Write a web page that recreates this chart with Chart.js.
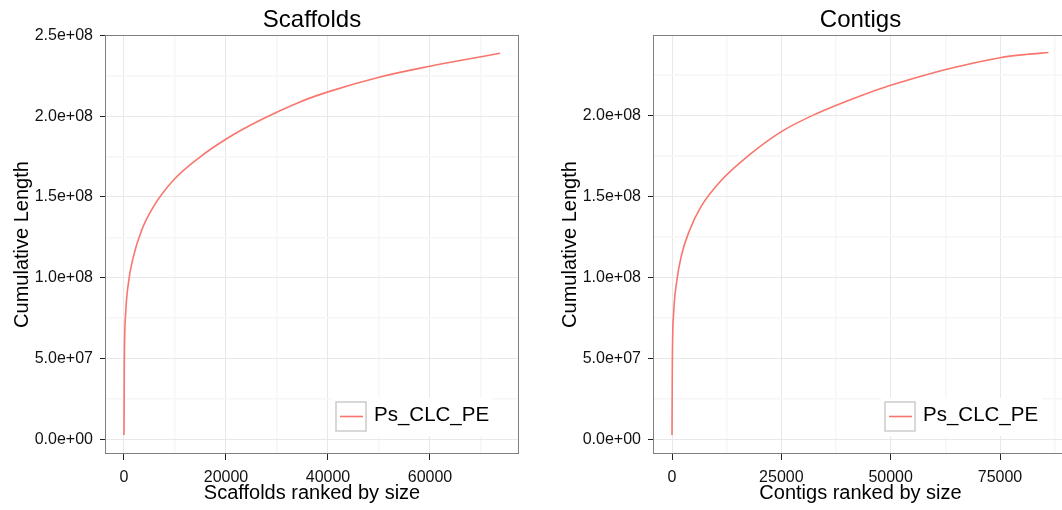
<!DOCTYPE html>
<html lang="en">
<head>
<meta charset="UTF-8">
<title>Scaffolds and Contigs cumulative length</title>
<script src="https://cdn.jsdelivr.net/npm/chart.js"></script>
<style>
  html, body { margin: 0; padding: 0; background: #fff; overflow: hidden; }
  body { width: 1062px; height: 510px; position: relative; }
  .panel { position: absolute; top: 0; height: 510px; }
  #leftPanel { left: 0; width: 530px; }
  #rightPanel { left: 540px; width: 527px; }
</style>
</head>
<body>
<div class="panel" id="leftPanel"><canvas id="scaffoldChart"></canvas></div>
<div class="panel" id="rightPanel"><canvas id="contigChart"></canvas></div>

<script>
// --- data ---
const seriesName = "Ps_CLC_PE";

const scaffoldRank = [1, 65, 327, 850, 1830, 3464, 5752, 9673, 14900, 20130, 26670, 34510, 40000, 50000, 60000, 65880, 73730];
const scaffoldCumLen = [2.66e6, 4.70e7, 7.79e7, 9.64e7, 1.129e8, 1.294e8, 1.438e8, 1.603e8, 1.747e8, 1.860e8, 1.974e8, 2.088e8, 2.150e8, 2.241e8, 2.309e8, 2.344e8, 2.389e8];

const contigRank = [1, 75, 380, 1000, 2100, 4000, 6700, 11300, 17400, 25000, 33000, 42000, 50000, 60000, 68000, 75000, 81000, 86070];
const contigCumLen = [2.6e6, 4.7e7, 7.8e7, 9.6e7, 1.13e8, 1.29e8, 1.44e8, 1.60e8, 1.75e8, 1.90e8, 2.011e8, 2.110e8, 2.186e8, 2.266e8, 2.318e8, 2.357e8, 2.377e8, 2.389e8];

// tick labels / grid positions
const yMajor = [0, 5e7, 1e8, 1.5e8, 2e8, 2.5e8];
const yMinor = [2.5e7, 7.5e7, 1.25e8, 1.75e8, 2.25e8];
const scaffoldXMajor = [0, 20000, 40000, 60000];
const scaffoldXMinor = [10000, 30000, 50000, 70000];
const contigXMajor = [0, 25000, 50000, 75000];
const contigXMinor = [12500, 37500, 62500, 87500];

const FONT = "'Liberation Sans', Arial, Helvetica, sans-serif";
const LINE_COLOR = "#F8766D";

// 2.5e+08 style labels
function sci(v) {
    if (v === 0) return "0.0e+00";
    const e = Math.floor(Math.log10(Math.abs(v)) + 1e-9);
    const m = v / Math.pow(10, e);
    return m.toFixed(1) + "e+" + String(e).padStart(2, "0");
}

// panel border + legend drawn on top (ggplot style)
const panelDecor = {
    id: "panelDecor",
    afterDraw(chart) {
        const { ctx, chartArea: a } = chart;
        ctx.save();

        // legend in bottom right corner of the panel
        const boxL = a.left + a.width - 182;
        const boxT = a.bottom - 52;
        ctx.font = "20.5px " + FONT;
        const label = chart.data.datasets[0].label;
        const tw = ctx.measureText(label).width;
        ctx.fillStyle = "#fff";
        ctx.fillRect(boxL - 4, boxT - 4, 38 + tw + 8, 38);

        ctx.strokeStyle = "#cccccc";
        ctx.lineWidth = 1.5;
        ctx.strokeRect(boxL, boxT, 30, 29);

        ctx.strokeStyle = LINE_COLOR;
        ctx.lineWidth = 1.6;
        ctx.beginPath();
        ctx.moveTo(boxL + 4, boxT + 14.5);
        ctx.lineTo(boxL + 27, boxT + 14.5);
        ctx.stroke();

        ctx.fillStyle = "#000";
        ctx.textBaseline = "middle";
        ctx.textAlign = "left";
        ctx.fillText(label, boxL + 38, boxT + 13);

        // panel border
        ctx.strokeStyle = "#7f7f7f";
        ctx.lineWidth = 1;
        ctx.strokeRect(Math.round(a.left) - 0.5, Math.round(a.top) + 0.5,
            Math.round(a.width) + 1, Math.round(a.height) - 1);
        ctx.restore();
    }
};

function makeChart(canvasId, opts) {
    const xMajorSet = new Set(opts.xMajor);
    const yMajorSet = new Set(yMajor);

    const points = opts.rank.map((r, i) => ({ x: r, y: opts.len[i] }));

    return new Chart(document.getElementById(canvasId), {
        type: "line",
        data: {
            datasets: [{
                label: seriesName,
                data: points,
                borderColor: LINE_COLOR,
                borderWidth: 1.6,
                pointRadius: 0,
                fill: false,
                cubicInterpolationMode: "monotone"
            }]
        },
        options: {
            responsive: true,
            maintainAspectRatio: false,
            animation: false,
            layout: { padding: { left: 0, right: opts.padRight, top: 0, bottom: 0 } },
            plugins: {
                legend: { display: false },
                tooltip: { enabled: false },
                title: {
                    display: true,
                    text: opts.title,
                    fullSize: false,
                    color: "#000",
                    font: { family: FONT, size: 24, weight: "normal", lineHeight: 1.2 },
                    padding: { top: 6, bottom: 0.2 }
                }
            },
            scales: {
                x: {
                    type: "linear",
                    min: opts.xMin,
                    max: opts.xMax,
                    afterFit: s => { s.height = 56; },
                    afterBuildTicks: s => {
                        s.ticks = opts.xMajor.concat(opts.xMinor)
                            .filter(v => v >= opts.xMin && v <= opts.xMax)
                            .sort((p, q) => p - q)
                            .map(v => ({ value: v }));
                    },
                    border: { display: false },
                    grid: {
                        color: c => xMajorSet.has(c.tick.value) ? "#e8e8e8" : "#f6f6f6",
                        lineWidth: c => xMajorSet.has(c.tick.value) ? 1 : 1.4,
                        tickColor: c => xMajorSet.has(c.tick.value) ? "#222" : "rgba(0,0,0,0)",
                        tickLength: 6
                    },
                    ticks: {
                        autoSkip: false,
                        maxRotation: 0,
                        padding: 8,
                        color: "#111",
                        font: { family: FONT, size: 16 },
                        callback: v => xMajorSet.has(v) ? String(v) : ""
                    },
                    title: {
                        display: true,
                        text: opts.xTitle,
                        color: "#000",
                        font: { family: FONT, size: 20, lineHeight: 1.2 },
                        padding: { top: 0, bottom: 4.5 }
                    }
                },
                y: {
                    type: "linear",
                    min: -9.08e6,
                    max: opts.yMax,
                    afterFit: s => { s.width = opts.yAxisWidth; },
                    afterBuildTicks: s => {
                        s.ticks = yMajor.concat(yMinor)
                            .filter(v => v >= s.min && v <= s.max)
                            .sort((p, q) => p - q)
                            .map(v => ({ value: v }));
                    },
                    border: { display: false },
                    grid: {
                        color: c => yMajorSet.has(c.tick.value) ? "#e8e8e8" : "#f6f6f6",
                        lineWidth: c => yMajorSet.has(c.tick.value) ? 1 : 1.4,
                        tickColor: c => yMajorSet.has(c.tick.value) ? "#222" : "rgba(0,0,0,0)",
                        tickLength: 6
                    },
                    ticks: {
                        autoSkip: false,
                        padding: 7,
                        color: "#111",
                        font: { family: FONT, size: 16 },
                        callback: v => yMajorSet.has(v) ? sci(v) : ""
                    },
                    title: {
                        display: true,
                        text: "Cumulative Length",
                        color: "#000",
                        font: { family: FONT, size: 20, lineHeight: 1.2 },
                        padding: { top: opts.yTitlePad, bottom: 0 }
                    }
                }
            }
        },
        plugins: [panelDecor]
    });
}

makeChart("scaffoldChart", {
    title: "Scaffolds",
    xTitle: "Scaffolds ranked by size",
    rank: scaffoldRank,
    len: scaffoldCumLen,
    xMajor: scaffoldXMajor,
    xMinor: scaffoldXMinor,
    xMin: -3529,
    xMax: 77255,
    yMax: 2.502e8,
    yAxisWidth: 106,
    yTitlePad: 10.5,
    padRight: 12
});

makeChart("contigChart", {
    title: "Contigs",
    xTitle: "Contigs ranked by size",
    rank: contigRank,
    len: contigCumLen,
    xMajor: contigXMajor,
    xMinor: contigXMinor,
    xMin: -4116,
    xMax: 90320,
    yMax: 2.497e8,
    yAxisWidth: 114,
    yTitlePad: 18.5,
    padRight: 0
});
</script>
</body>
</html>
